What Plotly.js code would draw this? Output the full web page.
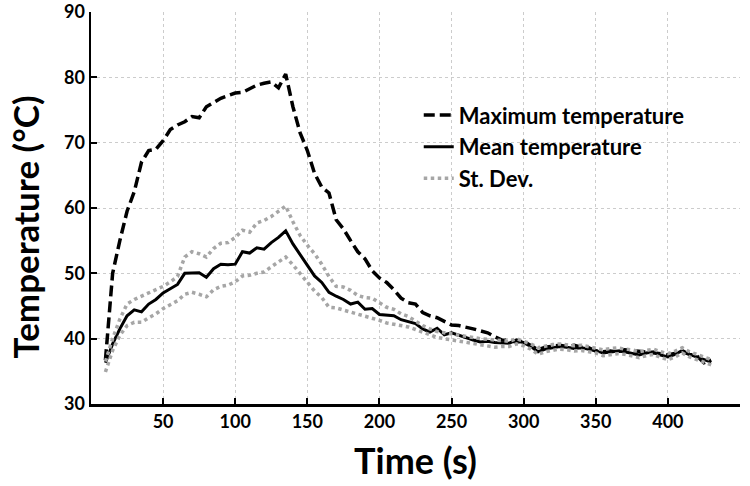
<!DOCTYPE html>
<html>
<head>
<meta charset="utf-8">
<script src="https://cdn.plot.ly/plotly-3.0.1.min.js"></script>
<style>html,body{margin:0;padding:0;background:#fff;}#chart{width:750px;height:486px;}</style>
</head>
<body>
<div id="chart"></div>
<script>
// Time (s)
const time = [10,15,20,25,30,35,40,45,50,55,60,65,70,75,80,85,90,95,100,105,110,115,120,125,130,135,140,145,150,155,160,165,170,175,180,185,190,195,200,205,210,215,220,225,230,235,240,245,250,255,260,265,270,275,280,285,290,295,300,305,310,315,320,325,330,335,340,345,350,355,360,365,370,375,380,385,390,395,400,405,410,415,420,425,430];

const maxTemp = [36.7,50,55,59.5,62.5,67,68.8,69,70.3,72,72.7,73.2,74,73.8,75.5,76.2,76.8,77.2,77.6,77.7,78.2,78.8,79.1,79.3,78.4,80.5,75.5,71.5,68.8,65.3,63.2,62.3,58.2,56.8,55,53.3,52.2,50.4,49.3,48.6,47.5,46.2,45.5,45.3,44,43.5,43.2,42.6,42.1,42,41.8,41.5,41.2,40.9,40.3,39.8,39.7,39.5,39.6,39,38.3,38.7,38.9,39,38.8,39,38.7,38.6,38.1,38,38.1,38,38.3,38.2,38,37.9,37.8,37.7,37.5,37.8,38,37.6,37.4,36.3,36.7];

const meanTemp = [36.3,39.2,41.5,43.5,44.4,44.1,45.3,46,47,47.6,48.3,50,50.1,50.1,49.4,50.7,51.4,51.3,51.4,53.3,53.1,53.9,53.7,54.7,55.5,56.5,54.5,52.8,51.3,49.6,48.6,47.1,46.5,46,45.3,45.6,44.5,44.6,43.7,43.6,43.5,42.9,42.6,42.3,41.5,41,41.6,40.6,40.9,40.5,40.1,39.8,39.5,39.6,39.4,39.4,39.3,39.8,39.4,38.8,38,38.4,38.6,38.8,38.7,38.5,38.6,38.4,38.2,37.8,38,38.1,38,37.8,37.5,37.8,38,37.5,37.2,37.6,38.2,37.6,37.2,36.8,36.4];

const sdUpper = [36.5,40,43,45.3,46,46.5,47,47.5,48,48.7,49.5,52.5,53.3,53,52.5,53.8,54.6,54.7,55.5,56.6,56.3,57.7,58.1,58.7,59.5,60.3,57.9,55.8,54.3,53,51.4,49.5,48,47.9,47.4,46.6,46.3,46.2,45.5,44.8,44.5,43.8,43.4,42.7,42,41.5,41.1,40.9,40.7,40.5,40.3,40.1,40,39.9,39.8,39.7,39.6,40,39.6,39.2,38.6,38.9,39.1,39.2,39.1,38.9,39,38.8,38.5,38.3,38.5,38.6,38.4,38.3,38,38.2,38.4,38,37.7,38.1,38.6,38,37.6,37.2,36.8];

const sdLower = [34.9,38.2,40.5,42,42.5,42.5,43.2,43.8,44.6,45.2,45.8,46.8,47.1,46.8,46.4,47.5,48,48.2,48.7,49.6,49.7,50,50.2,51,51.8,52.5,51.3,50,48.5,47.3,46.3,44.8,44.7,44.4,44,43.8,43.5,43.1,42.8,42.4,42.2,42,41.8,41.4,41,40.5,40.2,40,39.8,39.7,39.5,39.2,39,38.9,38.7,38.8,38.8,39.2,38.9,38.4,37.6,38,38.2,38.4,38.3,38.1,38.2,38,37.8,37.4,37.6,37.7,37.6,37.4,37.1,37.4,37.6,37.1,36.8,37.2,37.8,37.2,36.8,36.3,36];

const xTickVals = [50,100,150,200,250,300,350,400,450];
const xTickText = ['50','100','150','200','250','300','350','400',''];
const yTickVals = [30,40,50,60,70,80,90];

const FONT = 'Lato, "Open Sans", sans-serif';
const sdColor = '#a6a6a6';

const traces = [
  {x: time, y: maxTemp, name: 'Maximum temperature', mode: 'lines',
   line: {color: '#000', width: 3.5, dash: '11px,5px'}},
  {x: time, y: meanTemp, name: 'Mean temperature', mode: 'lines',
   line: {color: '#000', width: 3}},
  {x: time, y: sdUpper, name: 'St. Dev.', mode: 'lines', legendgroup: 'sd',
   line: {color: sdColor, width: 3.5, dash: 'dot'}},
  {x: time, y: sdLower, name: 'St. Dev.', mode: 'lines', legendgroup: 'sd', showlegend: false,
   line: {color: sdColor, width: 3.5, dash: 'dot'}}
];

const layout = {
  width: 750, height: 486,
  margin: {l: 91, r: 10, t: 12, b: 82},
  paper_bgcolor: '#fff', plot_bgcolor: '#fff',
  font: {family: FONT, color: '#000'},
  showlegend: true,
  legend: {x: 0.505, y: 0.79, xanchor: 'left', yanchor: 'top',
    font: {family: FONT, size: 22, weight: 'bold', color: '#000'},
    bgcolor: 'rgba(0,0,0,0)', borderwidth: 0, tracegroupgap: 0, itemwidth: 30},
  xaxis: {
    range: [0, 450], tickvals: xTickVals, ticktext: xTickText,
    ticks: 'inside', ticklen: 6, tickwidth: 2, tickcolor: '#000',
    showline: true, linecolor: '#000', linewidth: 2.5,
    showgrid: true, gridcolor: '#cccccc', griddash: 'dot', gridwidth: 1,
    zeroline: false,
    tickfont: {family: FONT, size: 18, weight: 'bold', color: '#000'},
    title: {text: 'Time (s)', font: {family: FONT, size: 36, weight: 'bold', color: '#000'}, standoff: 18}
  },
  yaxis: {
    range: [30, 90], tickvals: yTickVals,
    ticks: 'inside', ticklen: 6, tickwidth: 2, tickcolor: '#000',
    showline: true, linecolor: '#000', linewidth: 2.5,
    showgrid: true, gridcolor: '#cccccc', griddash: 'dot', gridwidth: 1,
    zeroline: false,
    tickfont: {family: FONT, size: 18, weight: 'bold', color: '#000'},
    title: {text: ''}
  },
  annotations: [{
    text: 'Temperature (°C)', textangle: -90, showarrow: false,
    xref: 'paper', yref: 'paper', x: 0, y: 0.45, xanchor: 'center', yanchor: 'middle',
    xshift: -66,
    font: {family: FONT, size: 35, weight: 'bold', color: '#000'}
  }]
};

Plotly.newPlot('chart', traces, layout, {displayModeBar: false, staticPlot: true});
</script>
</body>
</html>
